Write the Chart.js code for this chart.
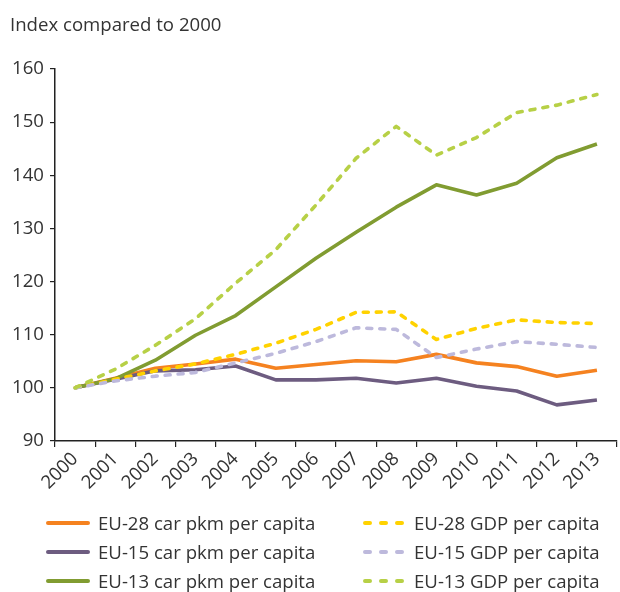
<!DOCTYPE html>
<html><head><meta charset="utf-8">
<script src="https://cdn.jsdelivr.net/npm/chart.js@4"></script>
<style>
html,body{margin:0;padding:0;background:#fff;}
#wrap{position:relative;width:620px;height:592px;font-family:"Open Sans",sans-serif;color:#333;}
#c{position:absolute;left:0;top:0;}
#title{position:absolute;left:10px;top:11px;font-size:18.6px;line-height:26px;white-space:nowrap;}
.li{position:absolute;font-size:18.6px;line-height:26px;height:26px;display:flex;align-items:center;white-space:nowrap;}
.li svg{margin-right:8px;}
</style></head>
<body>
<div id="wrap">
<canvas id="c" width="620" height="592"></canvas>
<div id="title">Index compared to 2000</div>
<div id="legend"></div>
</div>
<script>
const years = ['2000','2001','2002','2003','2004','2005','2006','2007','2008','2009','2010','2011','2012','2013'];
const yTicks = [90,100,110,120,130,140,150,160];
const seriesNames = ['EU-28 car pkm per capita','EU-15 car pkm per capita','EU-13 car pkm per capita',
                     'EU-28 GDP per capita','EU-15 GDP per capita','EU-13 GDP per capita'];
const eu28Car = [100,101.8,103.7,104.5,105.4,103.7,104.4,105.1,104.9,106.3,104.7,104.0,102.2,103.3];
const eu15Car = [100,101.6,103.2,103.4,104.1,101.5,101.5,101.8,100.9,101.8,100.3,99.4,96.8,97.7];
const eu13Car = [100,101.7,105.2,109.9,113.6,119.0,124.4,129.3,134.0,138.2,136.3,138.5,143.3,145.9];
const eu28Gdp = [100,101.6,103.2,104.5,106.3,108.4,111.0,114.2,114.3,109.1,111.2,112.8,112.3,112.1];
const eu15Gdp = [100,101.3,102.2,102.9,104.7,106.5,108.7,111.3,111.0,105.7,107.3,108.7,108.2,107.6];
const eu13Gdp = [100,103.5,108.0,113.0,119.7,126.0,134.4,143.2,149.2,143.8,147.1,151.8,153.2,155.2];

const colors = ['#f58220','#6d5c80','#819c31','#ffd200','#bdb9dc','#b7d046'];
const dashed = [false,false,false,true,true,true];
const values = [eu28Car,eu15Car,eu13Car,eu28Gdp,eu15Gdp,eu13Gdp];
const DASH = [5,8];
const LW = 3.6;

const datasets = values.map((v,i)=>({
  label: seriesNames[i],
  data: v,
  borderColor: colors[i],
  backgroundColor: colors[i],
  borderWidth: LW,
  borderDash: dashed[i] ? DASH : [],
  borderCapStyle: dashed[i] ? 'round' : 'butt',
  borderJoinStyle: 'round',
  pointRadius: 0,
  pointHoverRadius: 0,
  tension: 0,
  fill: false,
  order: 6 - i
}));

const FONT = {family:'"Open Sans", sans-serif', size:18.6};
new Chart(document.getElementById('c'), {
  type: 'line',
  data: {labels: years, datasets},
  options: {
    responsive: false,
    devicePixelRatio: 1,
    animation: false,
    layout: {padding: {top:69, right:3, bottom:91, left:0}},
    plugins: {legend:{display:false}, title:{display:false}, tooltip:{enabled:false}},
    scales: {
      x: {
        offset: true,
        ticks: {maxRotation:45, minRotation:45, autoSkip:false, color:'#333', font:FONT, padding:1},
        grid: {display:true, offset:true, drawOnChartArea:false, drawTicks:true, tickLength:6, color:'#222', lineWidth:1.2},
        border: {display:true, color:'#222', width:1.5},
        afterFit(s){ s.height = 60; }
      },
      y: {
        min: yTicks[0], max: yTicks[yTicks.length-1],
        afterBuildTicks(s){ s.ticks = yTicks.map(v=>({value:v})); },
        ticks: {color:'#333', font:FONT, padding:6},
        grid: {display:true, drawOnChartArea:false, drawTicks:true, tickLength:5, color:'#222', lineWidth:1.2},
        border: {display:true, color:'#222', width:1.5},
        afterFit(s){ s.width = 55; }
      }
    }
  }
});

// HTML legend, two columns
const legend = document.getElementById('legend');
const colX = [46, 362];
const rowY = [510, 539, 568];
values.forEach((v,i)=>{
  const col = i < 3 ? 0 : 1, row = i % 3;
  const d = document.createElement('div');
  d.className = 'li';
  d.style.left = colX[col] + 'px';
  d.style.top = rowY[row] + 'px';
  const dashAttr = dashed[i] ? 'stroke-dasharray="5 11" stroke-linecap="round"' : 'stroke-linecap="round"';
  const x1 = dashed[i] ? 3 : 2, x2 = dashed[i] ? 41 : 42;
  d.innerHTML = '<svg width="44" height="8"><line x1="'+x1+'" y1="4" x2="'+x2+'" y2="4" stroke="'+colors[i]+'" stroke-width="4" '+dashAttr+'/></svg><span>'+seriesNames[i]+'</span>';
  legend.appendChild(d);
});
</script>
</body></html>
